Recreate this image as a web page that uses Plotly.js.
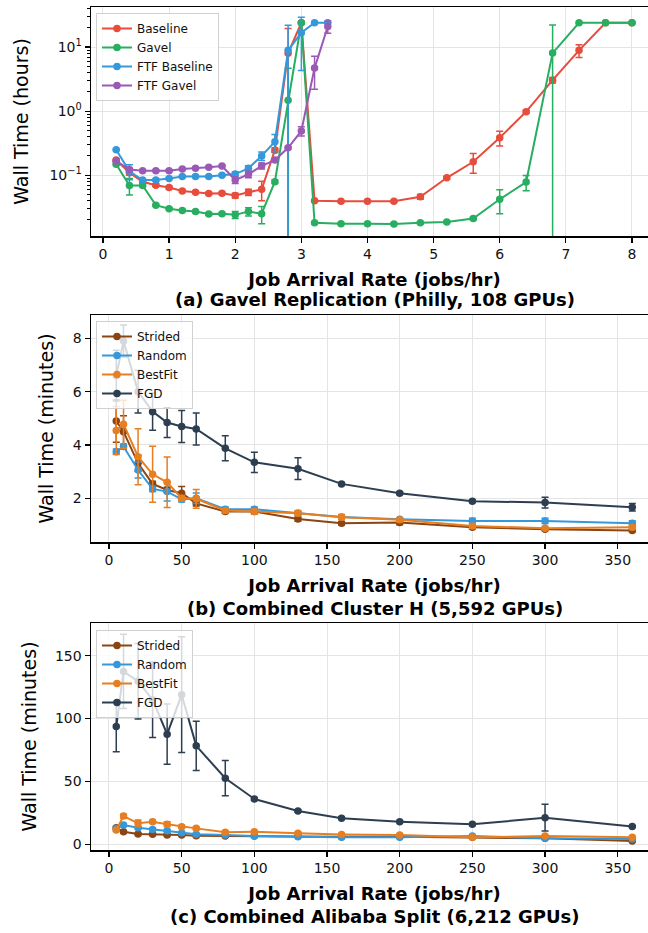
<!DOCTYPE html>
<html><head><meta charset="utf-8">
<script src="https://cdn.plot.ly/plotly-3.0.1.min.js"></script>
<style>html,body{margin:0;padding:0;overflow:hidden;background:#fff}</style>
</head><body><div id="chart" style="width:658px;height:933px"></div>
<script>
// ---------- Panel (a): Gavel Replication (Philly, 108 GPUs), wall time in hours ----------
const xGavelRuns = [0.2,0.4,0.6,0.8,1.0,1.2,1.4,1.6,1.8,2.0,2.2,2.4,2.6,2.8,3.0,3.2,3.6,4.0,4.4,4.8,5.2,5.6,6.0,6.4,6.8,7.2,7.6,8.0];
const baseline    = [0.172,0.109,0.079,0.0695,0.064,0.0567,0.054,0.0515,0.052,0.048,0.054,0.060,0.246,8.0,24.0,0.040,0.039,0.039,0.039,0.046,0.091,0.162,0.385,0.98,3.04,8.9,24.0,24.0];
const baselineErr = [0.005,0.008,0.004,0.003,0.003,0.002,0.002,0.002,0.002,0.004,0.006,0.02,0.02,11.5,0,0.001,0.001,0.001,0.001,0.004,0.004,0.055,0.1,0.05,0.3,2.0,0,0];
const gavel       = [0.148,0.069,0.069,0.034,0.030,0.028,0.027,0.0248,0.025,0.024,0.027,0.025,0.079,1.48,24.0,0.018,0.0174,0.0174,0.0173,0.018,0.0186,0.021,0.042,0.078,8.05,24.0,24.0,24.0];
const gavelErr    = [0.005,0.02,0.003,0.001,0.001,0.001,0.001,0.001,0.001,0.003,0.004,0.0075,0.005,3.2,0,0.0005,0.0005,0.0005,0.0005,0.0005,0.0005,0.001,0.017,0.021,14.0,0,0,0];
const xFtfRuns = [0.2,0.4,0.6,0.8,1.0,1.2,1.4,1.6,1.8,2.0,2.2,2.4,2.6,2.8,3.0,3.2,3.4];
const ftfBaseline    = [0.25,0.115,0.084,0.084,0.089,0.095,0.095,0.095,0.1,0.104,0.128,0.2,0.333,8.9,16.8,24.0,24.0];
const ftfBaselineErr = [0.005,0.03,0.003,0.003,0.003,0.003,0.003,0.003,0.003,0.008,0.012,0.03,0.1,13.0,12.5,0,0];
const ftfGavel       = [0.166,0.123,0.117,0.117,0.117,0.125,0.128,0.133,0.139,0.084,0.103,0.14,0.172,0.268,0.49,4.7,21.0];
const ftfGavelErr    = [0.004,0.004,0.003,0.003,0.003,0.003,0.003,0.003,0.004,0.01,0.012,0.015,0.005,0.01,0.08,2.5,4.5];
const aXTicks = [0,1,2,3,4,5,6,7,8];
const aYTickVals = [0.1,1,10];
const aYTickText = ['10<sup>\u22121</sup>','10<sup>0</sup>','10<sup>1</sup>'];
const aYMinorVals = [0.02,0.03,0.04,0.05,0.06,0.07,0.08,0.09,0.2,0.3,0.4,0.5,0.6,0.7,0.8,0.9,2,3,4,5,6,7,8,9,20,30,40];

// ---------- Panel (b): Combined Cluster H (5,592 GPUs), minutes ----------
const xArrival = [5,10,20,30,40,50,60,80,100,130,160,200,250,300,360];
const stridedH    = [4.9,4.5,3.31,2.54,2.31,2.19,1.81,1.5,1.5,1.22,1.06,1.09,0.91,0.84,0.79];
const stridedHErr = [0.8,0.6,0.3,0.1,0.1,0.25,0.1,0.06,0.06,0.08,0.05,0.08,0.05,0.05,0.05];
const randomH     = [3.75,3.94,3.06,2.35,2.25,1.96,2.0,1.59,1.59,1.44,1.3,1.21,1.15,1.15,1.06];
const randomHErr  = [0.1,0.1,0.3,0.1,0.35,0.1,0.2,0.08,0.08,0.06,0.05,0.05,0.1,0.1,0.1];
const bestFitH    = [4.54,4.78,3.56,2.9,2.6,2.0,1.98,1.54,1.5,1.44,1.29,1.19,0.96,0.875,0.91];
const bestFitHErr = [0.9,0.9,1.05,1.05,0.95,0.1,0.35,0.08,0.1,0.1,0.1,0.08,0.08,0.07,0.08];
const fgdH        = [6.6,7.9,6.0,5.25,4.84,4.69,4.6,3.875,3.35,3.11,2.54,2.19,1.89,1.84,1.66];
const fgdHErr     = [0.95,0.6,0.8,0.7,0.56,0.6,0.6,0.47,0.38,0.41,0.05,0.05,0.05,0.2,0.14];
const bcXTicks = [0,50,100,150,200,250,300,350];
const bYTicks = [2,4,6,8];

// ---------- Panel (c): Combined Alibaba Split (6,212 GPUs), minutes ----------
const stridedA    = [13.2,10.0,8.2,8.0,7.4,7.4,6.8,6.6,6.6,6.4,6.1,6.1,5.6,4.8,2.7];
const stridedAErr = [1,0.8,0.6,0.6,0.5,0.5,0.5,0.5,0.5,0.5,0.5,0.5,0.5,0.5,0.4];
const randomA     = [12.5,15.4,13.2,11.9,10.8,9.2,8.0,7.4,6.6,6.1,5.6,5.6,6.6,4.8,4.2];
const randomAErr  = [1,1.2,1,0.8,0.8,0.7,0.6,0.5,0.5,0.5,0.5,0.5,0.5,0.5,0.5];
const bestFitA    = [11.4,22.5,16.7,18.0,15.9,14.0,12.7,9.6,10.1,8.8,7.8,7.4,5.6,6.6,5.6];
const bestFitAErr = [1,1.5,2.7,1.2,2,1.2,1,1,0.8,0.8,0.8,0.6,0.5,0.6,0.6];
const fgdA        = [93.7,137.5,129.6,115.0,87.6,119.0,78.3,52.6,36.1,26.5,20.7,18.0,15.9,21.2,14.1];
const fgdAErr     = [20,29.5,30,30,24,46,19.5,14,1,0.8,0.8,0.6,0.6,10.6,0.6];
const cYTicks = [0,50,100,150];

const xTitleMain = 'Job Arrival Rate (jobs/hr)';
const subTitles = ['(a) Gavel Replication (Philly, 108 GPUs)','(b) Combined Cluster H (5,592 GPUs)','(c) Combined Alibaba Split (6,212 GPUs)'];

const C = {baseline:'#e74c3c', gavel:'#27ae60', ftfB:'#3498db', ftfG:'#9b59b6',
           strided:'#8b4513', random:'#3498db', bestfit:'#e67e22', fgd:'#2c3e50'};
const FONT = 'DejaVu Sans, Verdana, sans-serif';

function tr(x,y,e,name,color,xa,ya,lg){
  return {x:x,y:y,type:'scatter',mode:'lines+markers',name:name,
    line:{color:color,width:2},marker:{color:color,size:7.5},
    error_y:{type:'data',array:e,visible:true,color:color,thickness:1.5,width:3.5},
    xaxis:xa,yaxis:ya,legend:lg};
}
const data = [
  tr(xGavelRuns,baseline,baselineErr,'Baseline',C.baseline,'x','y','legend'),
  tr(xGavelRuns,gavel,gavelErr,'Gavel',C.gavel,'x','y','legend'),
  tr(xFtfRuns,ftfBaseline,ftfBaselineErr,'FTF Baseline',C.ftfB,'x','y','legend'),
  tr(xFtfRuns,ftfGavel,ftfGavelErr,'FTF Gavel',C.ftfG,'x','y','legend'),
  tr(xArrival,stridedH,stridedHErr,'Strided',C.strided,'x2','y2','legend2'),
  tr(xArrival,randomH,randomHErr,'Random',C.random,'x2','y2','legend2'),
  tr(xArrival,bestFitH,bestFitHErr,'BestFit',C.bestfit,'x2','y2','legend2'),
  tr(xArrival,fgdH,fgdHErr,'FGD',C.fgd,'x2','y2','legend2'),
  tr(xArrival,stridedA,stridedAErr,'Strided',C.strided,'x3','y3','legend3'),
  tr(xArrival,randomA,randomAErr,'Random',C.random,'x3','y3','legend3'),
  tr(xArrival,bestFitA,bestFitAErr,'BestFit',C.bestfit,'x3','y3','legend3'),
  tr(xArrival,fgdA,fgdAErr,'FGD',C.fgd,'x3','y3','legend3')
];

const W=658,H=933;
function axBase(){
  return {showline:true,linecolor:'#000',linewidth:1.5,mirror:true,
    ticks:'outside',ticklen:5,tickwidth:1.2,tickcolor:'#000',
    showgrid:true,gridcolor:'#e4e4e4',gridwidth:1,zeroline:false,
    tickfont:{family:FONT,size:14,color:'#111'},automargin:false};
}
function xax(range,ticks,anchor){
  return Object.assign(axBase(),{domain:[91/W,1],range:range,tickmode:'array',tickvals:ticks,anchor:anchor,
    title:{text:xTitleMain,font:{family:FONT,size:18,color:'#000',weight:'bold'},standoff:12}});
}
function yax(range,domain,anchor,extra){
  return Object.assign(axBase(),{domain:domain,range:range,anchor:anchor,
    title:{text:extra.title,font:{family:FONT,size:19,color:'#000'},standoff:extra.standoff}},extra.opts);
}
function lg(yTopPx){
  return {x:96/W,y:1-yTopPx/H,xanchor:'left',yanchor:'top',bgcolor:'rgba(255,255,255,0.8)',
    bordercolor:'#d0d0d0',borderwidth:1,font:{family:FONT,size:12,color:'#111'},tracegroupgap:0};
}
const subY = [299,608,916];
const annotations = subTitles.map((t,i)=>({text:t,xref:'paper',yref:'paper',x:374.5/W,y:1-subY[i]/H,
  xanchor:'center',yanchor:'middle',showarrow:false,font:{family:FONT,size:18,color:'#000',weight:'bold'}}));
const layout = {
  width:W,height:H,margin:{l:0,r:0,t:0,b:0},paper_bgcolor:'#fff',plot_bgcolor:'#fff',
  font:{family:FONT},
  xaxis:xax([-0.181,8.394],aXTicks,'y'),
  yaxis:yax([-1.95,1.626],[1-236/H,1-7/H],'x',{title:'Wall Time (hours)',standoff:16,
    opts:{type:'log',tickmode:'array',tickvals:aYTickVals,ticktext:aYTickText,
      minor:{tickmode:'array',tickvals:aYMinorVals,ticks:'outside',ticklen:3,tickwidth:1,tickcolor:'#000',showgrid:false}}}),
  xaxis2:xax([-12.38,377.7],bcXTicks,'y2'),
  yaxis2:yax([0.36,8.875],[1-542/H,1-315/H],'x2',{title:'Wall Time (minutes)',standoff:14,
    opts:{tickmode:'array',tickvals:bYTicks}}),
  xaxis3:xax([-12.38,377.7],bcXTicks,'y3'),
  yaxis3:yax([-4.5,176],[1-850/H,1-623/H],'x3',{title:'Wall Time (minutes)',standoff:13,
    opts:{tickmode:'array',tickvals:cYTicks}}),
  legend:lg(13),legend2:lg(321),legend3:lg(630),
  annotations:annotations,
  showlegend:true
};
Plotly.newPlot('chart',data,layout,{displayModeBar:false,staticPlot:true});
</script></body></html>
